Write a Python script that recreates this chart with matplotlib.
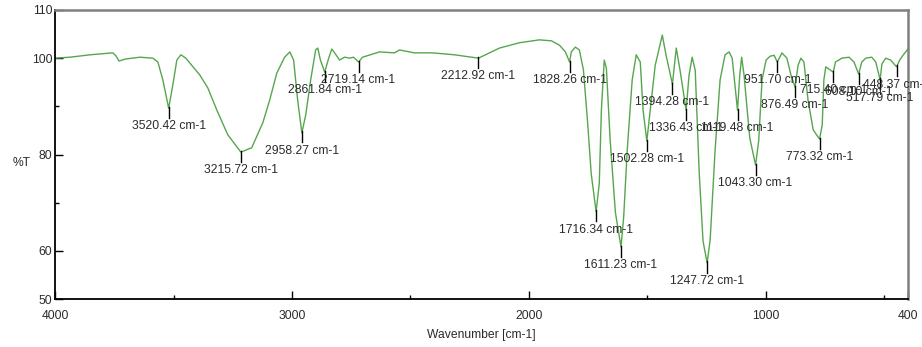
import numpy as np
import matplotlib
matplotlib.use("Agg")
import matplotlib.pyplot as plt
from matplotlib.ticker import FixedLocator

plt.rcParams['font.family'] = ['Liberation Sans', 'DejaVu Sans']

# IR spectrum (wavenumber in cm-1, transmittance in %T)
wavenumber = [
    4000, 3937, 3852, 3756, 3743, 3730, 3705, 3642, 3587, 3566, 3545, 3520.42,
    3503, 3486, 3469, 3448, 3389, 3355, 3317, 3271, 3215.72, 3170, 3123, 3094,
    3064, 3031, 3009, 2993, 2976, 2958.27, 2942, 2921, 2900, 2891, 2880, 2861.84,
    2845, 2832, 2820, 2799, 2778, 2757, 2740, 2719.14, 2702, 2630, 2567, 2546,
    2483, 2407, 2314, 2212.92, 2124, 2040, 1956, 1905, 1871, 1846, 1828.26, 1821,
    1804, 1787, 1770, 1753, 1737, 1716.34, 1703, 1694, 1682, 1673, 1657, 1635,
    1611.23, 1600, 1585, 1564, 1547, 1530, 1518, 1502.28, 1488, 1467, 1437, 1421,
    1394.28, 1378, 1362, 1336.43, 1324, 1311, 1298, 1281, 1265, 1247.72, 1235,
    1214, 1193, 1172, 1155, 1142, 1119.48, 1110, 1102, 1092, 1068, 1043.30, 1030,
    1016, 999, 982, 965, 951.70, 932, 911, 894, 876.49, 864, 852, 839, 822, 800,
    773.32, 762, 755, 747, 715.40, 706, 679, 649, 628, 608.10, 595, 578, 553, 536,
    517.79, 510, 494, 473, 448.37, 435, 418, 400,
]
transmittance = [
    100.0, 100.2, 100.7, 101.1, 100.5, 99.4, 99.8, 100.2, 100.0, 99.2, 95.5, 89.6,
    94.4, 99.6, 100.7, 100.0, 96.5, 93.8, 89.2, 84.1, 80.5, 81.4, 86.6, 91.3,
    96.9, 100.2, 101.3, 99.6, 91.3, 84.5, 88.2, 95.5, 101.7, 102.1, 99.6, 97.1,
    100.0, 101.9, 101.1, 99.6, 100.2, 100.0, 100.2, 99.2, 100.2, 101.3, 101.1, 101.7,
    101.1, 101.1, 100.7, 100.0, 102.1, 103.2, 103.8, 103.6, 102.7, 101.3, 99.2, 101.3,
    102.3, 101.7, 97.6, 87.2, 76.0, 68.1, 74.0, 89.3, 99.6, 97.9, 83.0, 68.0,
    60.8, 67.0, 80.9, 95.5, 100.7, 99.2, 89.2, 82.8, 89.2, 98.5, 104.8, 100.6,
    94.6, 102.1, 97.5, 89.2, 96.5, 100.2, 97.5, 76.0, 62.0, 57.5, 62.3,
    81.0, 95.5, 100.7, 101.3, 100.0, 89.2, 96.5, 100.2, 96.5, 83.5, 77.8, 82.9,
    95.5, 99.6, 100.4, 100.6, 99.2, 101.1, 100.0, 96.5, 94.0, 98.5, 100.0, 99.2, 91.3, 85.1,
    83.2, 86.1, 95.5, 98.2, 97.1, 99.2, 100.0, 100.2, 99.2, 96.7, 99.2, 100.0, 100.2, 99.2,
    95.5, 98.8, 100.0, 99.6, 98.2, 99.6, 100.8, 101.9,
]

# picked peaks
peaks = [
    3520.42, 3215.72, 2958.27, 2861.84, 2719.14, 2212.92, 1828.26, 1716.34,
    1611.23, 1502.28, 1394.28, 1336.43, 1247.72, 1119.48, 1043.30, 951.70,
    876.49, 773.32, 715.40, 608.10, 517.79, 448.37,
]

x_major = [4000, 3000, 2000, 1000, 400]
x_minor = [3500, 2500, 1500, 500]
y_major = [110, 100, 80, 60, 50]
y_minor = [90, 70]

fs = 8.7
txt = '#2b2b2b'

fig, ax = plt.subplots(figsize=(9.22, 3.47), dpi=100)
fig.subplots_adjust(left=0.0597, right=0.9848, top=0.9712, bottom=0.1383)

wn = np.array(wavenumber)
tr = np.array(transmittance)
ax.plot(wn, tr, color='#56a64e', lw=1.0)

for p in peaks:
    t = tr[np.argmin(np.abs(wn - p))]
    ax.plot([p, p], [t + 0.3, t - 2.0], color='black', lw=1.0)
    ax.text(p, t - 2.5, '{:.2f} cm-1'.format(p), ha='center', va='top',
            fontsize=fs, color=txt, clip_on=False)

ax.set_xlim(4000, 400)
ax.set_ylim(50, 110)

ax.xaxis.set_major_locator(FixedLocator(x_major))
ax.xaxis.set_minor_locator(FixedLocator(x_minor))
ax.yaxis.set_major_locator(FixedLocator(y_major))
ax.yaxis.set_minor_locator(FixedLocator(y_minor))
ax.tick_params(which='major', direction='in', length=6, width=1.0,
               labelsize=fs, labelcolor=txt)
ax.tick_params(axis='x', which='major', pad=8)
ax.tick_params(axis='y', which='major', pad=2)
ax.tick_params(which='minor', direction='in', length=3, width=1.0)

for side in ['left', 'bottom']:
    ax.spines[side].set_color('black')
    ax.spines[side].set_linewidth(1.3)
for side in ['top', 'right']:
    ax.spines[side].set_color('#808080')
    ax.spines[side].set_linewidth(1.8)

ax.set_xlabel('Wavenumber [cm-1]', fontsize=fs, color=txt, labelpad=5)
ax.text(-0.039, 0.47, '%T', transform=ax.transAxes, ha='center', va='center',
        fontsize=fs, color=txt)

fig.savefig('out.png', dpi=100)
